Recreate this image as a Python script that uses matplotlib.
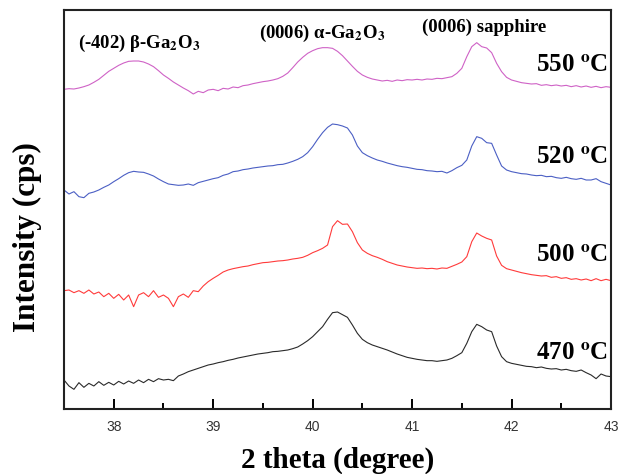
import numpy as np
import matplotlib
matplotlib.use("Agg")
import matplotlib.pyplot as plt
from matplotlib.ticker import MultipleLocator

# 2-theta grid (degree)
two_theta = np.round(np.arange(37.5, 43.0001, 0.05), 2)

# Intensities (arbitrary cps units)
int_550 = [132, 134, 133, 136, 140, 145, 153, 162, 174, 186,
           195, 204, 211, 216, 217, 217, 214, 208, 200, 188,
           175, 165, 154, 145, 136, 128, 118, 126, 122, 130,
           132, 128, 135, 133, 139, 137, 143, 145, 149, 152,
           155, 157, 160, 164, 171, 181, 197, 214, 228, 240,
           248, 254, 257, 257, 255, 246, 233, 217, 201, 186,
           175, 168, 163, 160, 157, 159, 156, 160, 158, 161,
           160, 162, 160, 163, 162, 165, 164, 167, 170, 180,
           195, 230, 260, 272, 260, 256, 242, 210, 185, 168,
           160, 156, 152, 150, 148, 149, 144, 146, 143, 145,
           142, 144, 140, 143, 139, 142, 138, 141, 137, 140,
           138]
int_520 = [130, 118, 125, 110, 107, 120, 124, 130, 138, 145,
           155, 164, 174, 182, 186, 184, 183, 178, 172, 163,
           155, 148, 146, 144, 145, 148, 144, 152, 156, 160,
           164, 167, 174, 178, 185, 187, 191, 193, 196, 198,
           200, 202, 203, 206, 207, 211, 216, 222, 230, 242,
           260, 282, 302, 318, 328, 326, 322, 316, 295, 262,
           242, 233, 226, 220, 216, 211, 207, 203, 200, 198,
           195, 192, 191, 188, 187, 185, 186, 181, 188, 197,
           204, 220, 262, 290, 285, 272, 270, 235, 202, 190,
           185, 182, 179, 178, 175, 173, 174, 170, 171, 167,
           165, 168, 164, 162, 165, 160, 160, 164, 155, 150,
           145]
int_500 = [128, 130, 122, 128, 120, 130, 118, 124, 110, 120,
           105, 117, 100, 115, 80, 115, 122, 110, 128, 108,
           115, 105, 80, 110, 118, 108, 128, 125, 142, 155,
           165, 174, 184, 190, 194, 197, 200, 202, 206, 209,
           212, 213, 215, 217, 218, 220, 223, 225, 228, 234,
           242, 248, 255, 265, 320, 338, 327, 328, 305, 272,
           250, 240, 233, 228, 222, 215, 210, 205, 202, 199,
           197, 195, 196, 194, 195, 193, 196, 195, 201, 207,
           214, 230, 275, 301, 292, 285, 280, 232, 204, 194,
           190, 186, 182, 179, 176, 174, 172, 173, 168, 170,
           165, 167, 162, 164, 160, 163, 158, 164, 158, 162,
           158]
int_470 = [160, 142, 132, 152, 138, 150, 142, 155, 144, 153,
           145, 156, 148, 157, 150, 160, 152, 162, 155, 164,
           160, 162, 158, 172, 178, 185, 190, 195, 200, 205,
           208, 212, 215, 219, 222, 226, 229, 232, 235, 238,
           240, 242, 245, 246, 248, 250, 254, 259, 268, 278,
           290, 305, 320, 342, 362, 364, 356, 348, 325, 300,
           282, 272, 265, 260, 255, 250, 244, 238, 233, 228,
           225, 222, 220, 218, 218, 216, 218, 220, 225, 233,
           242, 270, 305, 327, 320, 310, 305, 262, 230, 215,
           210, 207, 204, 201, 200, 197, 199, 195, 193, 194,
           190, 192, 188, 186, 190, 182, 175, 164, 178, 172,
           170]

series_labels = ["470 $^{\\mathbf{o}}$C", "500 $^{\\mathbf{o}}$C",
                 "520 $^{\\mathbf{o}}$C", "550 $^{\\mathbf{o}}$C"]
series_data = [int_470, int_500, int_520, int_550]
offsets = [0, 300, 600, 900]
colors = ["#2a2a2a", "#ff3b3b", "#4b5fc4", "#cf62c6"]
label_y = [241, 535, 826, 1105]

peak_texts = ["(-402) \u03b2-Ga$_{\\mathbf{2}}$O$_{\\mathbf{3}}$",
              "(0006) \u03b1-Ga$_{\\mathbf{2}}$O$_{\\mathbf{3}}$",
              "(0006) sapphire"]
peak_text_x = [37.64, 39.46, 41.10]
peak_text_y = [1171, 1201, 1219]

plt.rcParams["mathtext.fontset"] = "stix"

fig = plt.figure(figsize=(6.29, 4.74), dpi=100)
ax = fig.add_axes([64 / 629, 65 / 474, 547 / 629, 399 / 474])

for vals, off, col in zip(series_data, offsets, colors):
    ax.plot(two_theta, np.array(vals) + off, color=col, lw=0.8)

serif = "Liberation Serif"
for lab, ly in zip(series_labels, label_y):
    ax.text(42.97, ly, lab, ha="right", va="center", fontsize=18,
            fontweight="bold", family=serif)

for t, tx, ty in zip(peak_texts, peak_text_x, peak_text_y):
    ax.text(tx, ty, t, ha="left", va="center", fontsize=13.5,
            fontweight="bold", family=serif)

ax.set_xlim(37.5, 43)
ax.set_ylim(73, 1270)
ax.set_yticks([])
ax.xaxis.set_major_locator(MultipleLocator(1))
ax.xaxis.set_minor_locator(MultipleLocator(0.5))
ax.tick_params(axis="x", which="major", direction="in", length=7, width=1.4,
               labelsize=10, pad=8, labelcolor="#333333", top=False)
ax.tick_params(axis="x", which="minor", direction="in", length=4, width=1.4,
               top=False)
for lbl in ax.get_xticklabels():
    lbl.set_family("Liberation Sans")
for sp in ax.spines.values():
    sp.set_linewidth(1.5)
    sp.set_color("#222222")

ax.set_xlabel("2 theta (degree)", fontsize=21, fontweight="bold",
              family=serif, labelpad=9)
ax.set_ylabel("Intensity (cps)", fontsize=22.5, fontweight="bold",
              family=serif)
ax.yaxis.set_label_coords(-0.041, 0.43)

fig.savefig("out.png", dpi=100)
